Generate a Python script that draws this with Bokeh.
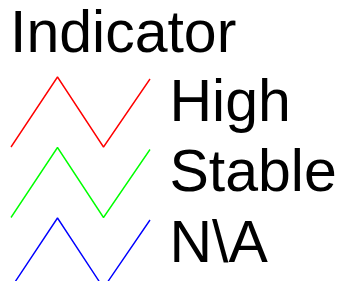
from bokeh.plotting import figure
from bokeh.models import Range1d, ColumnDataSource
from bokeh.core.properties import value
from bokeh.embed import file_html
from bokeh.resources import INLINE

# ---- data ----
legend_title = "Indicator"
labels = ["High", "Stable", "N\\A"]
colors = ["#ff0000", "#00ff00", "#0000ff"]

# ---- layout / style (picture pixel coordinates) ----
W, H = 339, 281
FONT = "Liberation Sans"
FONT_SIZE = "59px"
ROW_STEP = 70.5
FIRST_LINE_BASE = 146.5      # bottom y of first zigzag
FIRST_TEXT_TOP = 67          # em-box top of first label
ZIG_X = [10.5, 57, 103, 149.5]
ZIG_DY = [0, -70, 0, -68]
TEXT_X = 169
TITLE_X = 9.5
TITLE_TOP = -2

p = figure(width=W, height=H, output_backend="svg", toolbar_location=None,
           x_range=Range1d(0, W), y_range=Range1d(H, 0),
           min_border=0, outline_line_color=None)
p.axis.visible = False
p.grid.visible = False
p.background_fill_color = "white"
p.border_fill_color = "white"

p.text(x=[TITLE_X], y=[TITLE_TOP], text=[legend_title], text_font=value(FONT),
       text_font_size=FONT_SIZE, text_color="black",
       text_baseline="top", text_align="left")

xs, ys = [], []
for i, lab in enumerate(labels):
    base = FIRST_LINE_BASE + i * ROW_STEP
    xs.append(ZIG_X)
    ys.append([base + d for d in ZIG_DY])
src = ColumnDataSource(dict(xs=xs, ys=ys, color=colors))
p.multi_line(xs="xs", ys="ys", line_color="color", line_width=1.4, source=src)

tsrc = ColumnDataSource(dict(x=[TEXT_X] * len(labels),
                             y=[FIRST_TEXT_TOP + i * ROW_STEP for i in range(len(labels))],
                             text=labels))
p.text(x="x", y="y", text="text", source=tsrc, text_font=value(FONT),
       text_font_size=FONT_SIZE, text_color="black",
       text_baseline="top", text_align="left")

open("out.html", "w").write(file_html(p, INLINE))
